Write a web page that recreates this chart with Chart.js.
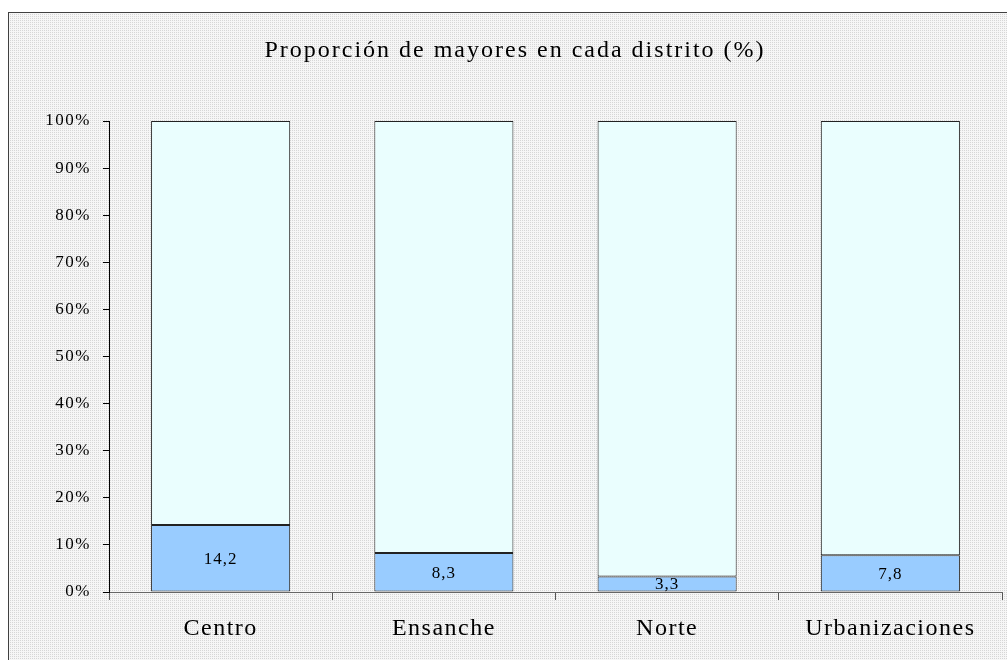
<!DOCTYPE html>
<html>
<head>
<meta charset="utf-8">
<script src="https://cdn.jsdelivr.net/npm/chart.js@4/dist/chart.umd.min.js"></script>
<style>
  html, body { margin: 0; padding: 0; background: #ffffff; }
  #c { display: block; }
</style>
</head>
<body>
<canvas id="c" width="1007" height="660"></canvas>
<script>
const chartTitle = 'Proporción de mayores en cada distrito (%)';
const categories = ['Centro', 'Ensanche', 'Norte', 'Urbanizaciones'];
const mayores = [14.2, 8.3, 3.3, 7.8];
const resto = [85.8, 91.7, 96.7, 92.2];
const valueLabels = ['14,2', '8,3', '3,3', '7,8'];
const yTicks = [0, 10, 20, 30, 40, 50, 60, 70, 80, 90, 100];

const FONT = '"Liberation Serif", "Times New Roman", serif';

function makePattern(ctx) {
  const p = document.createElement('canvas');
  p.width = 2; p.height = 2;
  const g = p.getContext('2d');
  g.fillStyle = '#f6f6f6'; g.fillRect(0, 0, 2, 2);
  g.fillStyle = '#d6d6d6'; g.fillRect(0, 0, 1, 1);
  return ctx.createPattern(p, 'repeat');
}

const spacingPlugin = {
  id: 'spacing',
  beforeUpdate(chart) { chart.ctx.letterSpacing = '1.5px'; },
  beforeDraw(chart) { chart.ctx.letterSpacing = '1.5px'; }
};

const bgPlugin = {
  id: 'bg',
  beforeDraw(chart) {
    const ctx = chart.ctx;
    ctx.save();
    ctx.fillStyle = '#ffffff';
    ctx.fillRect(0, 0, chart.width, chart.height);
    ctx.fillStyle = makePattern(ctx);
    ctx.fillRect(8, 12, chart.width - 8, chart.height - 12);
    ctx.strokeStyle = '#404040';
    ctx.lineWidth = 1;
    ctx.strokeRect(8.5, 12.5, chart.width + 10, chart.height + 10);
    ctx.restore();
  }
};

const titlePlugin = {
  id: 'titleText',
  afterDraw(chart) {
    const ctx = chart.ctx;
    ctx.save();
    ctx.letterSpacing = '2px';
    ctx.font = '24px ' + FONT;
    ctx.fillStyle = '#000000';
    ctx.textAlign = 'center';
    ctx.textBaseline = 'alphabetic';
    ctx.fillText(chartTitle, 515, 57);
    ctx.restore();
  }
};

const labelPlugin = {
  id: 'valueLabels',
  afterDatasetsDraw(chart) {
    const ctx = chart.ctx;
    const meta = chart.getDatasetMeta(0);
    ctx.save();
    ctx.letterSpacing = '1px';
    ctx.font = '17px ' + FONT;
    ctx.fillStyle = '#000000';
    ctx.textAlign = 'center';
    ctx.textBaseline = 'middle';
    meta.data.forEach((bar, i) => {
      const p = bar.getProps(['x', 'y', 'base'], true);
      ctx.fillText(valueLabels[i], p.x, (p.y + p.base) / 2 + 1);
    });
    ctx.restore();
  }
};

new Chart(document.getElementById('c'), {
  type: 'bar',
  data: {
    labels: categories,
    datasets: [
      {
        label: 'Mayores',
        data: mayores,
        backgroundColor: '#99ccff',
        borderColor: '#222222',
        borderWidth: 1,
        borderSkipped: false
      },
      {
        label: 'Resto',
        data: resto,
        backgroundColor: '#eafefe',
        borderColor: '#222222',
        borderWidth: 1,
        borderSkipped: false
      }
    ]
  },
  options: {
    responsive: false,
    devicePixelRatio: 1,
    animation: false,
    layout: { padding: { top: 121, right: 5, bottom: 0, left: 0 } },
    datasets: { bar: { categoryPercentage: 1, barPercentage: 0.623 } },
    plugins: {
      legend: { display: false },
      title: { display: false },
      tooltip: { enabled: false }
    },
    scales: {
      x: {
        stacked: true,
        offset: true,
        grid: { display: true, drawOnChartArea: false, offset: true, tickLength: 8, color: '#555555' },
        border: { display: true, color: '#666666', width: 1 },
        ticks: { color: '#000000', font: { family: FONT, size: 24 }, padding: 14, maxRotation: 0 },
        afterFit(scale) { scale.height = 68; }
      },
      y: {
        stacked: true,
        min: 0,
        max: 100,
        afterBuildTicks(scale) { scale.ticks = yTicks.map(v => ({ value: v })); },
        grid: { display: true, drawOnChartArea: false, tickLength: 6, color: '#000000' },
        border: { display: true, color: '#000000', width: 1 },
        ticks: {
          color: '#000000',
          font: { family: FONT, size: 17 },
          padding: 12,
          callback: (v) => v + '%'
        },
        afterFit(scale) { scale.width = 109; }
      }
    }
  },
  plugins: [spacingPlugin, bgPlugin, titlePlugin, labelPlugin]
});
</script>
</body>
</html>
